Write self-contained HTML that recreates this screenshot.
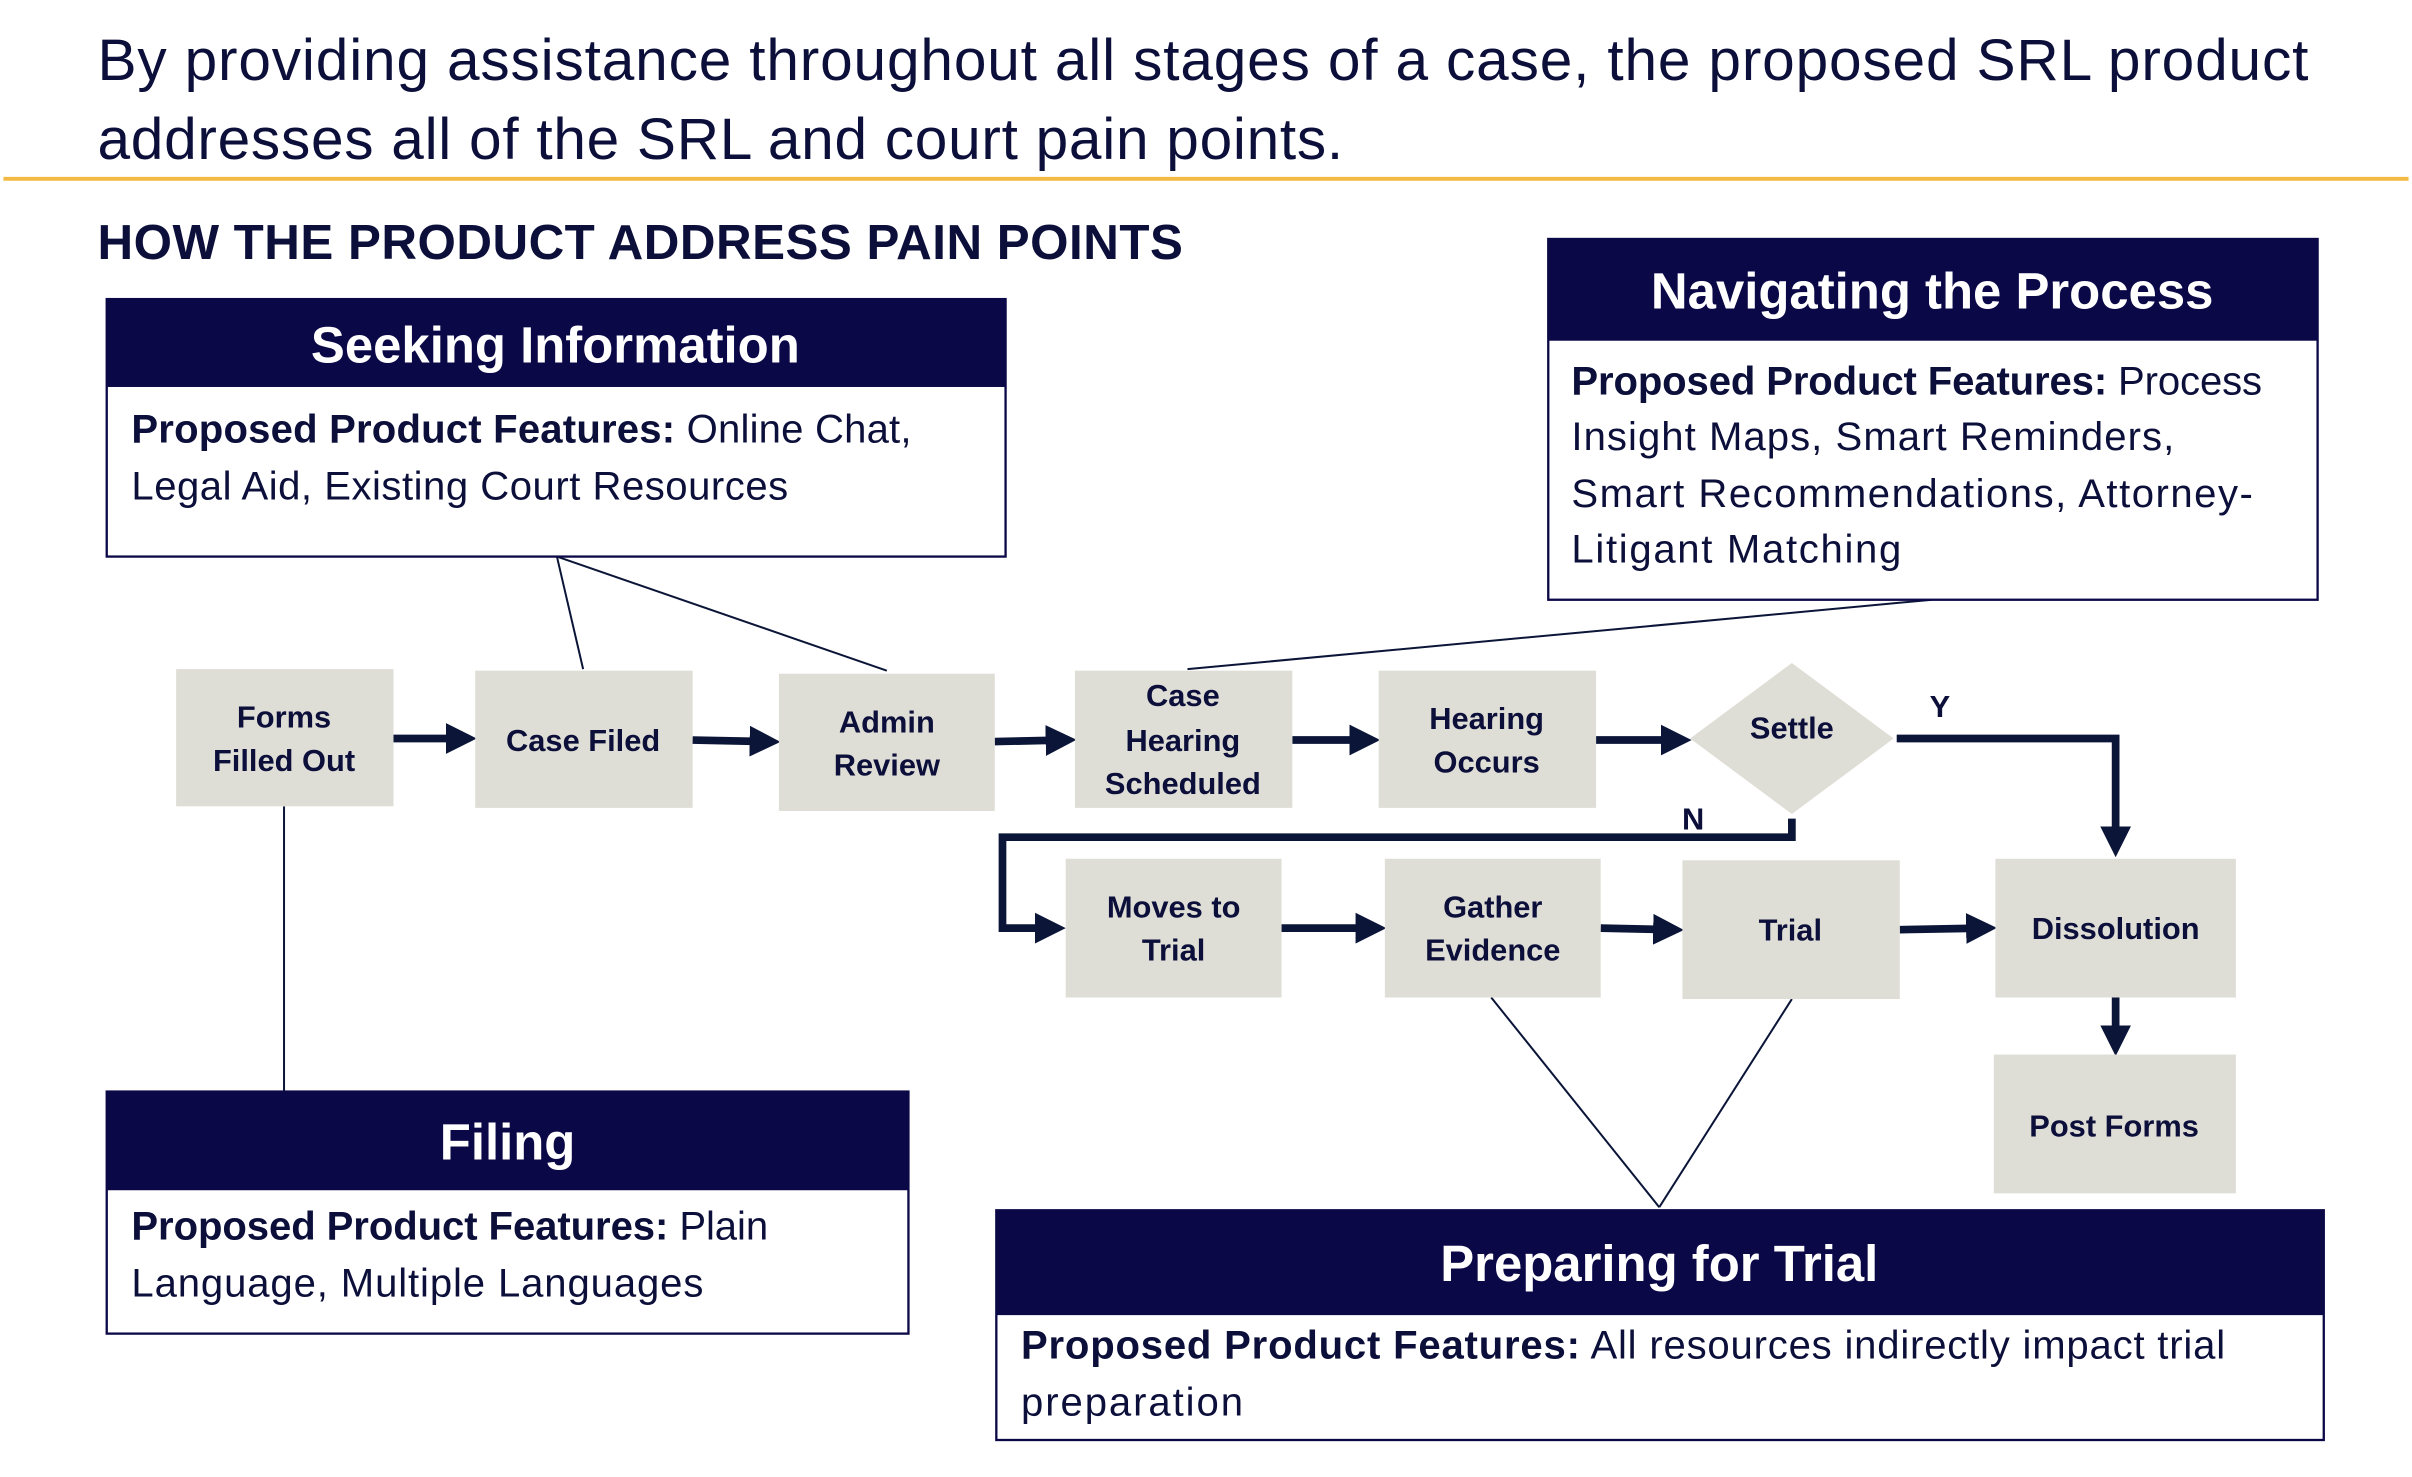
<!DOCTYPE html>
<html><head><meta charset="utf-8"><style>
html,body{margin:0;padding:0;background:#fff;width:2412px;height:1477px;overflow:hidden}
svg{display:block}
text{font-family:"Liberation Sans",sans-serif;fill:#0b0f3a}
.hd{fill:#fff;font-weight:bold;font-size:33px;text-anchor:middle}
.bd{font-size:26px}
.b{font-weight:bold}
.lb{font-weight:bold;font-size:20px;text-anchor:middle}
.node{fill:#dfded6}
.arr{stroke:#0b1538;stroke-width:5;fill:none}
.thin{stroke:#0b1538;stroke-width:1.3;fill:none}
</style></head><body>
<svg width="2412" height="1477" viewBox="0 0 1564 958">
<defs><marker id="ah" markerWidth="4" markerHeight="4" refX="2.2" refY="2" orient="auto" markerUnits="strokeWidth"><path d="M0,0 L4,2 L0,4 z" fill="#0b1538"/></marker></defs>
<text x="63" y="52" font-size="38" textLength="1434">By providing assistance throughout all stages of a case, the proposed SRL product</text>
<text x="63" y="103" font-size="38" textLength="808">addresses all of the SRL and court pain points.</text>
<line x1="2" y1="116" x2="1562" y2="116" stroke="#f4b942" stroke-width="2.5"/>
<text x="63" y="168" font-size="32" font-weight="bold" textLength="704">HOW THE PRODUCT ADDRESS PAIN POINTS</text>

<g>
<line class="thin" x1="361" y1="361" x2="378" y2="434"/>
<line class="thin" x1="361" y1="361" x2="575" y2="435"/>
<line class="thin" x1="770" y1="434" x2="1253" y2="389"/>
<line class="thin" x1="184" y1="523" x2="184" y2="708"/>
<line class="thin" x1="967" y1="647" x2="1076" y2="783"/>
<line class="thin" x1="1162" y1="648" x2="1076" y2="783"/>
</g>

<g>
<rect x="69" y="194" width="583" height="167" fill="#fff" stroke="#0b0847" stroke-width="1.5"/>
<rect x="69" y="194" width="583" height="57" fill="#0b0847"/>
<text class="hd" x="360" y="235">Seeking Information</text>
<text class="bd" x="85" y="287" textLength="506"><tspan class="b">Proposed Product Features:</tspan> Online Chat,</text>
<text class="bd" x="85" y="324" textLength="426">Legal Aid, Existing Court Resources</text>
</g>
<g>
<rect x="1004" y="155" width="499" height="234" fill="#fff" stroke="#0b0847" stroke-width="1.5"/>
<rect x="1004" y="155" width="499" height="66" fill="#0b0847"/>
<text class="hd" x="1253" y="200">Navigating the Process</text>
<text class="bd" x="1019" y="256" textLength="448"><tspan class="b">Proposed Product Features:</tspan> Process</text>
<text class="bd" x="1019" y="292" textLength="391">Insight Maps, Smart Reminders,</text>
<text class="bd" x="1019" y="329" textLength="442">Smart Recommendations, Attorney-</text>
<text class="bd" x="1019" y="365" textLength="214">Litigant Matching</text>
</g>
<g>
<rect x="69" y="708" width="520" height="157" fill="#fff" stroke="#0b0847" stroke-width="1.5"/>
<rect x="69" y="708" width="520" height="64" fill="#0b0847"/>
<text class="hd" x="329" y="752">Filing</text>
<text class="bd" x="85" y="804" textLength="413"><tspan class="b">Proposed Product Features:</tspan> Plain</text>
<text class="bd" x="85" y="841" textLength="371">Language, Multiple Languages</text>
</g>
<g>
<rect x="646" y="785" width="861" height="149" fill="#fff" stroke="#0b0847" stroke-width="1.5"/>
<rect x="646" y="785" width="861" height="68" fill="#0b0847"/>
<text class="hd" x="1076" y="831">Preparing for Trial</text>
<text class="bd" x="662" y="881" textLength="781"><tspan class="b">Proposed Product Features:</tspan> All resources indirectly impact trial</text>
<text class="bd" x="662" y="918" textLength="144">preparation</text>
</g>

<g>
<line class="arr" x1="255" y1="479" x2="300" y2="479" marker-end="url(#ah)"/>
<line class="arr" x1="449" y1="480" x2="497" y2="481" marker-end="url(#ah)"/>
<line class="arr" x1="645" y1="481" x2="689" y2="480" marker-end="url(#ah)"/>
<line class="arr" x1="838" y1="480" x2="886" y2="480" marker-end="url(#ah)"/>
<line class="arr" x1="1035" y1="480" x2="1088" y2="480" marker-end="url(#ah)"/>
<polyline class="arr" points="1230,479 1372,479 1372,547" marker-end="url(#ah)"/>
<polyline class="arr" points="1162,531 1162,543 650,543 650,602 682,602" marker-end="url(#ah)"/>
<line class="arr" x1="831" y1="602" x2="890" y2="602" marker-end="url(#ah)"/>
<line class="arr" x1="1038" y1="602" x2="1083" y2="603" marker-end="url(#ah)"/>
<line class="arr" x1="1232" y1="603" x2="1286" y2="602" marker-end="url(#ah)"/>
<line class="arr" x1="1372" y1="647" x2="1372" y2="676" marker-end="url(#ah)"/>
</g>
<text class="lb" x="1258" y="465">Y</text>
<text class="lb" x="1098" y="538">N</text>

<g><rect class="node" x="114" y="434" width="141" height="89"/><text class="lb" x="184" y="472">Forms</text><text class="lb" x="184" y="500">Filled Out</text></g>
<g><rect class="node" x="308" y="435" width="141" height="89"/><text class="lb" x="378" y="487">Case Filed</text></g>
<g><rect class="node" x="505" y="437" width="140" height="89"/><text class="lb" x="575" y="475">Admin</text><text class="lb" x="575" y="503">Review</text></g>
<g><rect class="node" x="697" y="435" width="141" height="89"/><text class="lb" x="767" y="458">Case</text><text class="lb" x="767" y="487">Hearing</text><text class="lb" x="767" y="515">Scheduled</text></g>
<g><rect class="node" x="894" y="435" width="141" height="89"/><text class="lb" x="964" y="473">Hearing</text><text class="lb" x="964" y="501">Occurs</text></g>
<g><polygon class="node" points="1162,430 1228,479 1162,528 1096,479"/><text class="lb" x="1162" y="479">Settle</text></g>
<g><rect class="node" x="691" y="557" width="140" height="90"/><text class="lb" x="761" y="595">Moves to</text><text class="lb" x="761" y="623">Trial</text></g>
<g><rect class="node" x="898" y="557" width="140" height="90"/><text class="lb" x="968" y="595">Gather</text><text class="lb" x="968" y="623">Evidence</text></g>
<g><rect class="node" x="1091" y="558" width="141" height="90"/><text class="lb" x="1161" y="610">Trial</text></g>
<g><rect class="node" x="1294" y="557" width="156" height="90"/><text class="lb" x="1372" y="609">Dissolution</text></g>
<g><rect class="node" x="1293" y="684" width="157" height="90"/><text class="lb" x="1371" y="737">Post Forms</text></g>
</svg>
</body></html>
